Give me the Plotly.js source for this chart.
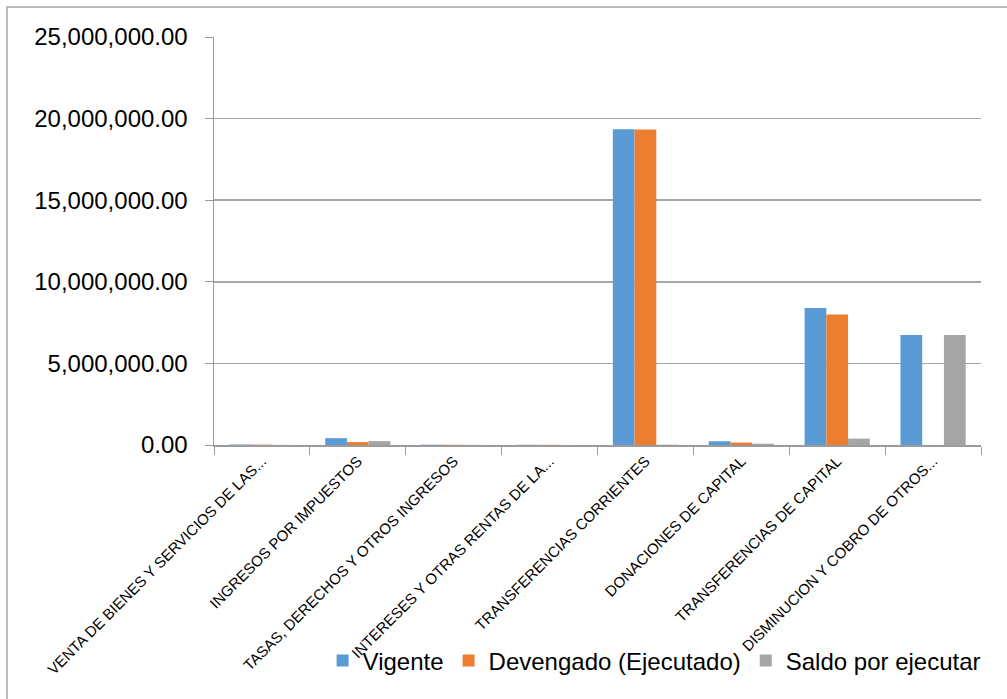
<!DOCTYPE html>
<html>
<head>
<meta charset="utf-8">
<script src="https://cdn.plot.ly/plotly-3.0.1.min.js"></script>
<style>html,body{margin:0;padding:0;background:#fff;}#chart{width:1007px;height:699px;}</style>
</head>
<body>
<div id="chart"></div>
<script>
var categories = [
  "VENTA DE BIENES Y SERVICIOS DE LAS...",
  "INGRESOS POR IMPUESTOS",
  "TASAS, DERECHOS Y OTROS INGRESOS",
  "INTERESES Y OTRAS RENTAS DE LA...",
  "TRANSFERENCIAS CORRIENTES",
  "DONACIONES DE CAPITAL",
  "TRANSFERENCIAS DE CAPITAL",
  "DISMINUCION Y COBRO DE OTROS..."
];
var vigente    = [30000, 420000, 20000, 15000, 19350000, 230000, 8390000, 6740000];
var devengado  = [25000, 180000, 15000, 12000, 19330000, 150000, 8000000, 0];
var saldo      = [5000, 240000, 5000, 3000, 20000, 80000, 390000, 6740000];
var seriesNames = ["Vigente", "Devengado (Ejecutado)", "Saldo por ejecutar"];
var yTicks = [0, 5000000, 10000000, 15000000, 20000000, 25000000];

var colors = ["#5B9BD5", "#ED7D31", "#A5A5A5"];
var values = [vigente, devengado, saldo];
var traces = values.map(function(v, i){
  return {type:"bar", x:categories, y:v, name:seriesNames[i],
          marker:{color:colors[i]}};
});

var layout = {
  width:1007, height:699,
  margin:{l:214, r:26, t:37, b:254},
  paper_bgcolor:"#ffffff", plot_bgcolor:"#ffffff",
  font:{family:"Liberation Sans, Arial, sans-serif", color:"#000"},
  barmode:"group", bargap:0.32, bargroupgap:0,
  showlegend:true,
  legend:{orientation:"h", x:1.006, xanchor:"right", y:-0.529, yanchor:"middle",
          font:{size:24, color:"#000"}, itemwidth:30, tracegroupgap:0, bgcolor:"rgba(0,0,0,0)"},
  xaxis:{type:"category", tickangle:-45, tickson:"boundaries", ticks:"outside", ticklen:8,
         tickcolor:"#9b9b9b", showline:true, linecolor:"#9b9b9b", linewidth:1.5,
         showgrid:false, tickfont:{size:15, color:"#000"}, automargin:false},
  yaxis:{range:[0,25000000], tickvals:yTicks, tickformat:",.2f", ticks:"outside", ticklen:8,
         tickcolor:"#9b9b9b", showline:true, linecolor:"#9b9b9b", linewidth:1.5,
         showgrid:true, gridcolor:"#a6a6a6", gridwidth:1.5, zeroline:false,
         ticklabelstandoff:12,
         tickfont:{size:24, color:"#000"}, automargin:false},
  shapes:[{type:"rect", xref:"paper", yref:"paper",
           x0:(7-214)/767, x1:(1010-214)/767, y0:(445-710)/408, y1:(445-7)/408,
           line:{color:"#a6a6a6", width:1.5}, fillcolor:"rgba(0,0,0,0)"}]
};
Plotly.newPlot("chart", traces, layout, {displayModeBar:false, staticPlot:true});
</script>
</body>
</html>
